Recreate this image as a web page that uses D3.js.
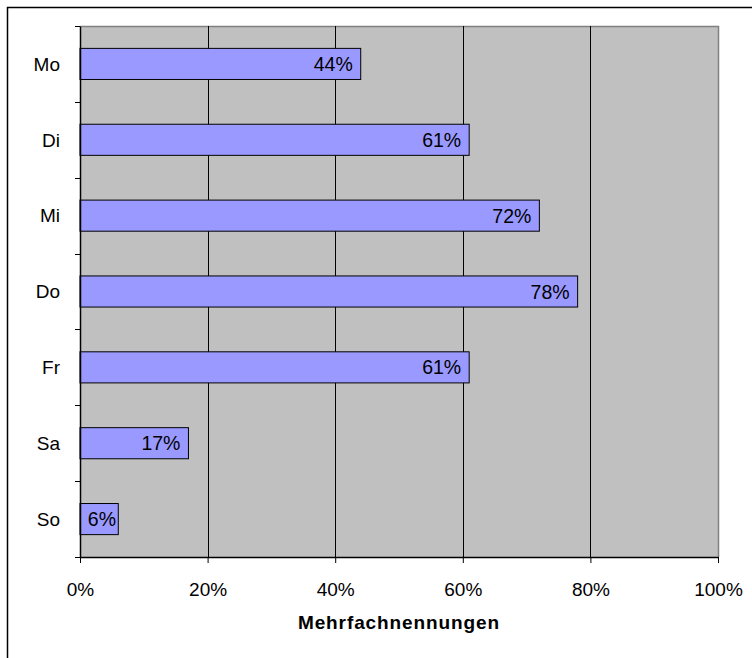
<!DOCTYPE html>
<html><head><meta charset="utf-8">
<script src="https://cdn.jsdelivr.net/npm/d3@7"></script>
<style>body{margin:0;background:#fff}svg{display:block}text{font-family:"Liberation Sans",Arial,sans-serif}</style>
</head><body>
<script>
const categories = ["Mo","Di","Mi","Do","Fr","Sa","So"];
const values = [44,61,72,78,61,17,6];
const tickValues = [0,20,40,60,80,100];
const axisTitle = "Mehrfachnennungen";

const W=752,H=658,FS=19,FV=19.5;
const svg=d3.select("body").append("svg").attr("width",W).attr("height",H);
svg.append("rect").attr("x",7.5).attr("y",7.5).attr("width",W+20).attr("height",H+20)
  .attr("fill","#fff").attr("stroke","#000").attr("stroke-width",1.5);

const L=80,R=718,T=26,B=557;
const x=d3.scaleLinear().domain([0,100]).range([L,R]);
const y=d3.scaleBand().domain(categories).range([T,B]).paddingInner(0.59).paddingOuter(0.295);
const band=d3.scaleBand().domain(categories).range([T,B]);

svg.append("rect").attr("x",L).attr("y",T).attr("width",R-L).attr("height",B-T)
  .attr("fill","#C0C0C0");
svg.append("path").attr("d",`M${L},${T+0.5}H${R+0.5}V${B}`).attr("fill","none").attr("stroke","#808080").attr("stroke-width",1.5);

svg.selectAll(".grid").data(tickValues.slice(1,-1)).join("line")
  .attr("x1",d=>Math.round(x(d))+0.5).attr("x2",d=>Math.round(x(d))+0.5)
  .attr("y1",T).attr("y2",B).attr("stroke","#000").attr("stroke-width",1);

svg.selectAll(".bar").data(values).join("rect")
  .attr("x",L).attr("y",(d,i)=>y(categories[i]))
  .attr("width",d=>x(d)-L).attr("height",y.bandwidth())
  .attr("fill","#9999FF").attr("stroke","#000").attr("stroke-width",1);

svg.selectAll(".vl").data(values).join("text")
  .attr("x",d=>Math.max(x(d)-8, L+36)).attr("y",(d,i)=>y(categories[i])+y.bandwidth()/2)
  .attr("dy","0.36em").attr("text-anchor","end").attr("font-size",FV).attr("fill","#000")
  .text(d=>d+"%");

const ya=svg.append("g").attr("transform",`translate(${L},0)`)
  .call(d3.axisLeft(band).tickSize(0).tickPadding(20));
ya.select(".domain").attr("stroke","#000").attr("stroke-width",1.5);
ya.selectAll("text").attr("font-size",FS).attr("fill","#000").attr("font-family","Liberation Sans, Arial, sans-serif").attr("dy","0.36em");
const bounds=categories.map(c=>band(c)).concat([B]);
svg.selectAll(".yt").data(bounds).join("line")
  .attr("x1",L-5).attr("x2",L).attr("y1",d=>Math.round(d)+0.5).attr("y2",d=>Math.round(d)+0.5)
  .attr("stroke","#000");

const xa=svg.append("g").attr("transform",`translate(0,${B})`)
  .call(d3.axisBottom(x).tickValues(tickValues).tickFormat(d=>d+"%").tickSize(6).tickSizeOuter(0).tickPadding(0));
xa.select(".domain").attr("stroke","#000").attr("stroke-width",1.5);
xa.selectAll("line").attr("stroke","#000");
xa.selectAll("text").attr("font-size",FS).attr("fill","#000").attr("font-family","Liberation Sans, Arial, sans-serif")
  .attr("y",39).attr("dy",null);

svg.append("text").attr("x",(L+R)/2).attr("y",629).attr("text-anchor","middle")
  .attr("font-size",FS).attr("font-weight","bold").attr("letter-spacing","0.9px").text(axisTitle);
</script>
</body></html>
